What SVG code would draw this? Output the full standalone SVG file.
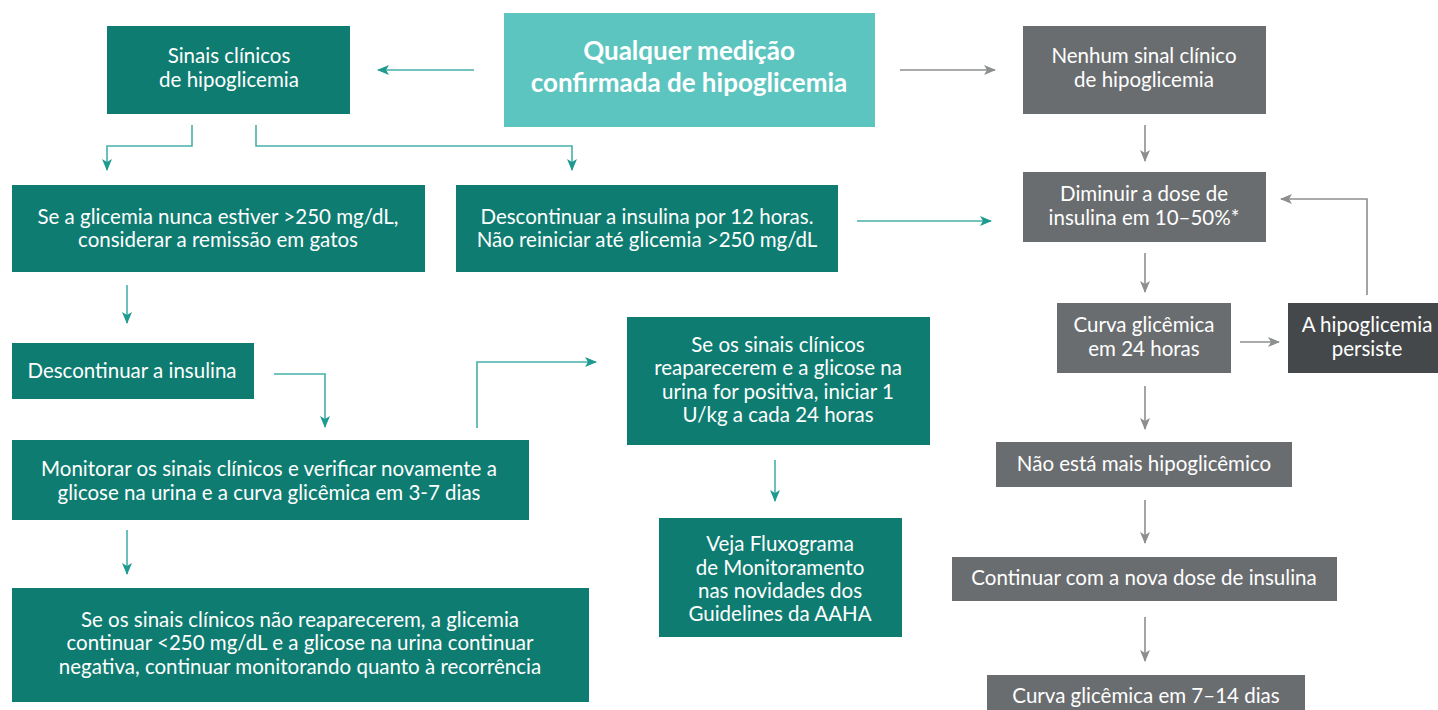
<svg xmlns="http://www.w3.org/2000/svg" width="1438" height="710" viewBox="0 0 1438 710">
<defs>
<style>
.t{font-family:Lato,"Open Sans","Liberation Sans",sans-serif;font-size:20.5px;fill:#ffffff;text-anchor:middle}
.b{font-size:26px;font-weight:bold}
.dk{fill:#0e7c71}
.lt{fill:#5dc5bf}
.gr{fill:#6a6d6f}
.dg{fill:#45484a}
.ct{fill:none;stroke:#45b0a9;stroke-width:1.6}
.cg{fill:none;stroke:#8c8e90;stroke-width:1.6}
</style>
<marker id="at" markerUnits="userSpaceOnUse" markerWidth="12" markerHeight="12" viewBox="0 0 12 12" refX="11" refY="6" orient="auto">
<path d="M0,1 L12,6 L0,11 L3,6 z" fill="#1f9a91"/>
</marker>
<marker id="ag" markerUnits="userSpaceOnUse" markerWidth="12" markerHeight="12" viewBox="0 0 12 12" refX="11" refY="6" orient="auto">
<path d="M0,1 L12,6 L0,11 L3,6 z" fill="#8c8e90"/>
</marker>
</defs>
<rect width="1438" height="710" fill="#ffffff"/>

<g id="connectors">
<path class="ct" d="M474,70 H378" marker-end="url(#at)"/>
<path class="cg" d="M900,70 H995" marker-end="url(#ag)"/>
<path class="ct" d="M192,125 V146 H107 V170" marker-end="url(#at)"/>
<path class="ct" d="M256,125 V146 H572 V170" marker-end="url(#at)"/>
<path class="cg" d="M1145,125 V161" marker-end="url(#ag)"/>
<path class="ct" d="M857,221 H991" marker-end="url(#at)"/>
<path class="cg" d="M1145,253 V292" marker-end="url(#ag)"/>
<path class="cg" d="M1240,342 H1279" marker-end="url(#ag)"/>
<path class="cg" d="M1367,295 V199 H1281" marker-end="url(#ag)"/>
<path class="cg" d="M1145,386 V429" marker-end="url(#ag)"/>
<path class="ct" d="M127,285 V323" marker-end="url(#at)"/>
<path class="ct" d="M274,374 H325 V427" marker-end="url(#at)"/>
<path class="ct" d="M477,428 V362 H596" marker-end="url(#at)"/>
<path class="ct" d="M775,460 V501" marker-end="url(#at)"/>
<path class="ct" d="M127,530 V574" marker-end="url(#at)"/>
<path class="cg" d="M1145,500 V543" marker-end="url(#ag)"/>
<path class="cg" d="M1145,617 V661" marker-end="url(#ag)"/>
</g>

<g id="n1"><rect class="dk" x="107" y="26" width="243" height="88"/>
<text class="t" x="229" y="63">Sinais clínicos</text><text class="t" x="229" y="87">de hipoglicemia</text></g>

<g id="n2"><rect class="lt" x="504" y="13" width="371" height="114"/>
<text class="t b" x="689" y="60">Qualquer medição</text><text class="t b" x="689" y="92">confirmada de hipoglicemia</text></g>

<g id="n3"><rect class="gr" x="1023" y="26" width="243" height="88"/>
<text class="t" x="1144" y="63">Nenhum sinal clínico</text><text class="t" x="1144" y="87">de hipoglicemia</text></g>

<g id="n4"><rect class="dk" x="12" y="185" width="413" height="87"/>
<text class="t" x="218" y="224">Se a glicemia nunca estiver &gt;250 mg/dL,</text><text class="t" x="218" y="247">considerar a remissão em gatos</text></g>

<g id="n5"><rect class="dk" x="456" y="185" width="382" height="87"/>
<text class="t" x="647" y="224">Descontinuar a insulina por 12 horas.</text><text class="t" x="647" y="247">Não reiniciar até glicemia &gt;250 mg/dL</text></g>

<g id="n6"><rect class="gr" x="1023" y="172" width="243" height="70"/>
<text class="t" x="1144" y="201">Diminuir a dose de</text><text class="t" x="1144" y="225">insulina em 10–50%*</text></g>

<g id="n7"><rect class="gr" x="1057" y="303" width="174" height="70"/>
<text class="t" x="1144" y="332">Curva glicêmica</text><text class="t" x="1144" y="356">em 24 horas</text></g>

<g id="n8"><rect class="dg" x="1288" y="303" width="160" height="70"/>
<text class="t" x="1367" y="332">A hipoglicemia</text><text class="t" x="1367" y="356">persiste</text></g>

<g id="n9"><rect class="dk" x="12" y="343" width="242" height="56"/>
<text class="t" x="132" y="378">Descontinuar a insulina</text></g>

<g id="n10"><rect class="dk" x="627" y="317" width="303" height="128"/>
<text class="t" x="778" y="352">Se os sinais clínicos</text><text class="t" x="778" y="375">reaparecerem e a glicose na</text><text class="t" x="778" y="399">urina for positiva, iniciar 1</text><text class="t" x="778" y="422">U/kg a cada 24 horas</text></g>

<g id="n11"><rect class="dk" x="12" y="440" width="517" height="80"/>
<text class="t" x="269" y="476">Monitorar os sinais clínicos e verificar novamente a</text><text class="t" x="269" y="500">glicose na urina e a curva glicêmica em 3-7 dias</text></g>

<g id="n12"><rect class="gr" x="996" y="442" width="296" height="45"/>
<text class="t" x="1144" y="471">Não está mais hipoglicêmico</text></g>

<g id="n13"><rect class="dk" x="659" y="518" width="243" height="119"/>
<text class="t" x="780" y="551">Veja Fluxograma</text><text class="t" x="780" y="575">de Monitoramento</text><text class="t" x="780" y="598">nas novidades dos</text><text class="t" x="780" y="621">Guidelines da AAHA</text></g>

<g id="n14"><rect class="dk" x="12" y="588" width="577" height="114"/>
<text class="t" x="300" y="627">Se os sinais clínicos não reaparecerem, a glicemia</text><text class="t" x="300" y="650">continuar &lt;250 mg/dL e a glicose na urina continuar</text><text class="t" x="300" y="674">negativa, continuar monitorando quanto à recorrência</text></g>

<g id="n15"><rect class="gr" x="952" y="557" width="385" height="44"/>
<text class="t" x="1144" y="585">Continuar com a nova dose de insulina</text></g>

<g id="n16"><rect class="gr" x="987" y="675" width="318" height="40"/>
<text class="t" x="1146" y="703">Curva glicêmica em 7–14 dias</text></g>
</svg>
